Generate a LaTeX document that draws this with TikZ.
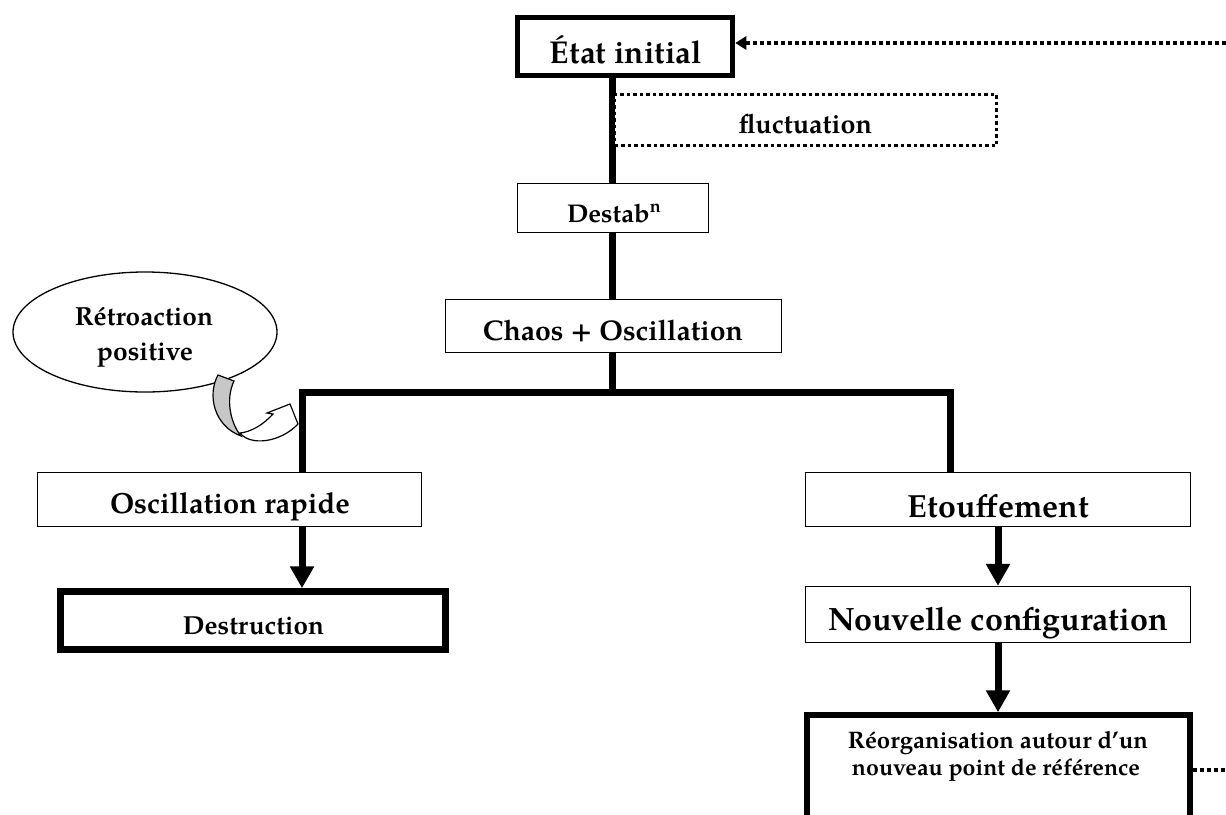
\documentclass[tikz,border=0pt]{standalone}
\usepackage{fontspec}
\setmainfont{texgyrepagella}[Extension=.otf,UprightFont=*-regular,BoldFont=*-bold,ItalicFont=*-italic,BoldItalicFont=*-bolditalic]
\usetikzlibrary{arrows.meta,shapes.geometric}
\newcommand\fitw[2]{\resizebox{#1pt}{!}{\bfseries #2}}
\begin{document}
\begin{tikzpicture}[x=1pt,y=-1pt,
  thinbox/.style={draw, line width=1.4pt, fill=white, inner sep=0pt, rectangle},
  thickbox/.style={draw, line width=5.5pt, fill=white, inner sep=0pt, rectangle},
  dotbox/.style={draw, line width=3.5pt, dash pattern=on 3.5pt off 3pt, fill=white, inner sep=0pt, rectangle},
  txt/.style={anchor=base, inner sep=0pt},
  trunk/.style={line width=7pt, line join=miter},
  flow/.style={line width=7pt, -{Triangle[width=23pt,length=22pt]}},
  dotline/.style={line width=4pt, dash pattern=on 4pt off 3pt},
]
\useasboundingbox (0,0) rectangle (1226,814);
\clip (0,0) rectangle (1226,814);

% helper coordinates
\coordinate (tx) at (612.5,0);
\coordinate (jM) at (612.5,392);
\coordinate (jL) at (302,392);
\coordinate (jR) at (950,392);
\coordinate (fx) at (998,0);
\coordinate (rightA) at (1226,43);
\coordinate (rightB) at (1226,770);

% boxes
\node[thickbox, minimum width=215pt, minimum height=58pt] (etat) at (625,46.5) {};
\node[thinbox, minimum width=191pt, minimum height=49pt] (destab) at (613,208) {};
\node[thinbox, minimum width=336pt, minimum height=53pt] (chaos) at (613.5,326) {};
\node[thinbox, minimum width=384pt, minimum height=54pt] (osc) at (229.5,499.5) {};
\node[thickbox, line width=6.5pt, minimum width=385pt, minimum height=58pt] (destr) at (253,620.5) {};
\node[thinbox, minimum width=385pt, minimum height=54pt] (etouf) at (998,499.5) {};
\node[thinbox, minimum width=385pt, minimum height=56pt] (nouv) at (998,614.5) {};
\node[thickbox, minimum width=383pt, minimum height=200pt] (reorg) at (998.5,815) {};

% trunk lines
\draw[trunk] (etat.south -| tx) -- (destab.north -| tx);
\node[dotbox, minimum width=382pt, minimum height=51pt] (fluct) at (805.5,120) {};
\draw[trunk] (destab.south -| tx) -- (chaos.north -| tx);
\draw[trunk] (chaos.south -| tx) -- (jM);
\draw[trunk] (osc.north -| jL) -- (jL) -- (jR) -- (etouf.north -| jR);

% arrows
\draw[flow] (osc.south -| jL) -- (destr.north -| jL);
\draw[flow] (etouf.south -| fx) -- (nouv.north -| fx);
\draw[flow] (nouv.south -| fx) -- (reorg.north -| fx);

% dotted connectors
\draw[dotline, -{Triangle[width=13pt,length=11pt]}] (rightA) -- (etat.east |- rightA);
\draw[dotline] (reorg.east |- rightB) -- (rightB);

% texts
\node[txt] (tetat) at (626,63) {\fitw{152}{État initial}};
\node[txt] (tfluct) at (805.5,133) {\fitw{133}{fluctuation}};
\node[txt] (tdestab) at (614.5,222) {\fitw{95}{Destab\textsuperscript{n}}};
\node[txt] (tchaos) at (613,340) {\fitw{260}{Chaos + Oscillation}};
\node[txt] (tosc) at (230,513) {\fitw{240}{Oscillation rapide}};
\node[txt] (tdestr) at (253.5,634) {\fitw{141}{Destruction}};
\node[txt] (tetouf) at (998.5,517) {\fitw{181}{Etouffement}};
\node[txt] (tnouv) at (998,630) {\fitw{340}{Nouvelle configuration}};
\node[txt] (treorgA) at (998,748) {\fitw{300}{Réorganisation autour d’un}};
\node[txt] (treorgB) at (996,775) {\fitw{288}{nouveau point de référence}};

% feedback ellipse
\node[ellipse, draw, line width=1.3pt, fill=white, minimum width=264pt, minimum height=120pt, inner sep=0pt] (retro) at (145,332) {};
\node[txt] (tretroA) at (144,325) {\fitw{138}{Rétroaction}};
\node[txt] (tretroB) at (145,360) {\fitw{96}{positive}};

% curved feedback arrow
\coordinate (cTop) at (218,375);
\coordinate (cTip) at (298,424);
\draw[line width=1.2pt, fill=white, line join=miter]
  (240,433) .. controls (250,446) and (280,443) .. (cTip)
  -- (290,404) -- (267,413) -- (273,414)
  .. controls (262,426) and (250,432) .. (240,433) -- cycle;
\draw[line width=1.2pt, fill=black!22]
  (cTop) .. controls (207,395) and (214,426) .. (241,436)
  .. controls (231,424) and (225,400) .. (234,381) -- cycle;
\end{tikzpicture}
\end{document}
